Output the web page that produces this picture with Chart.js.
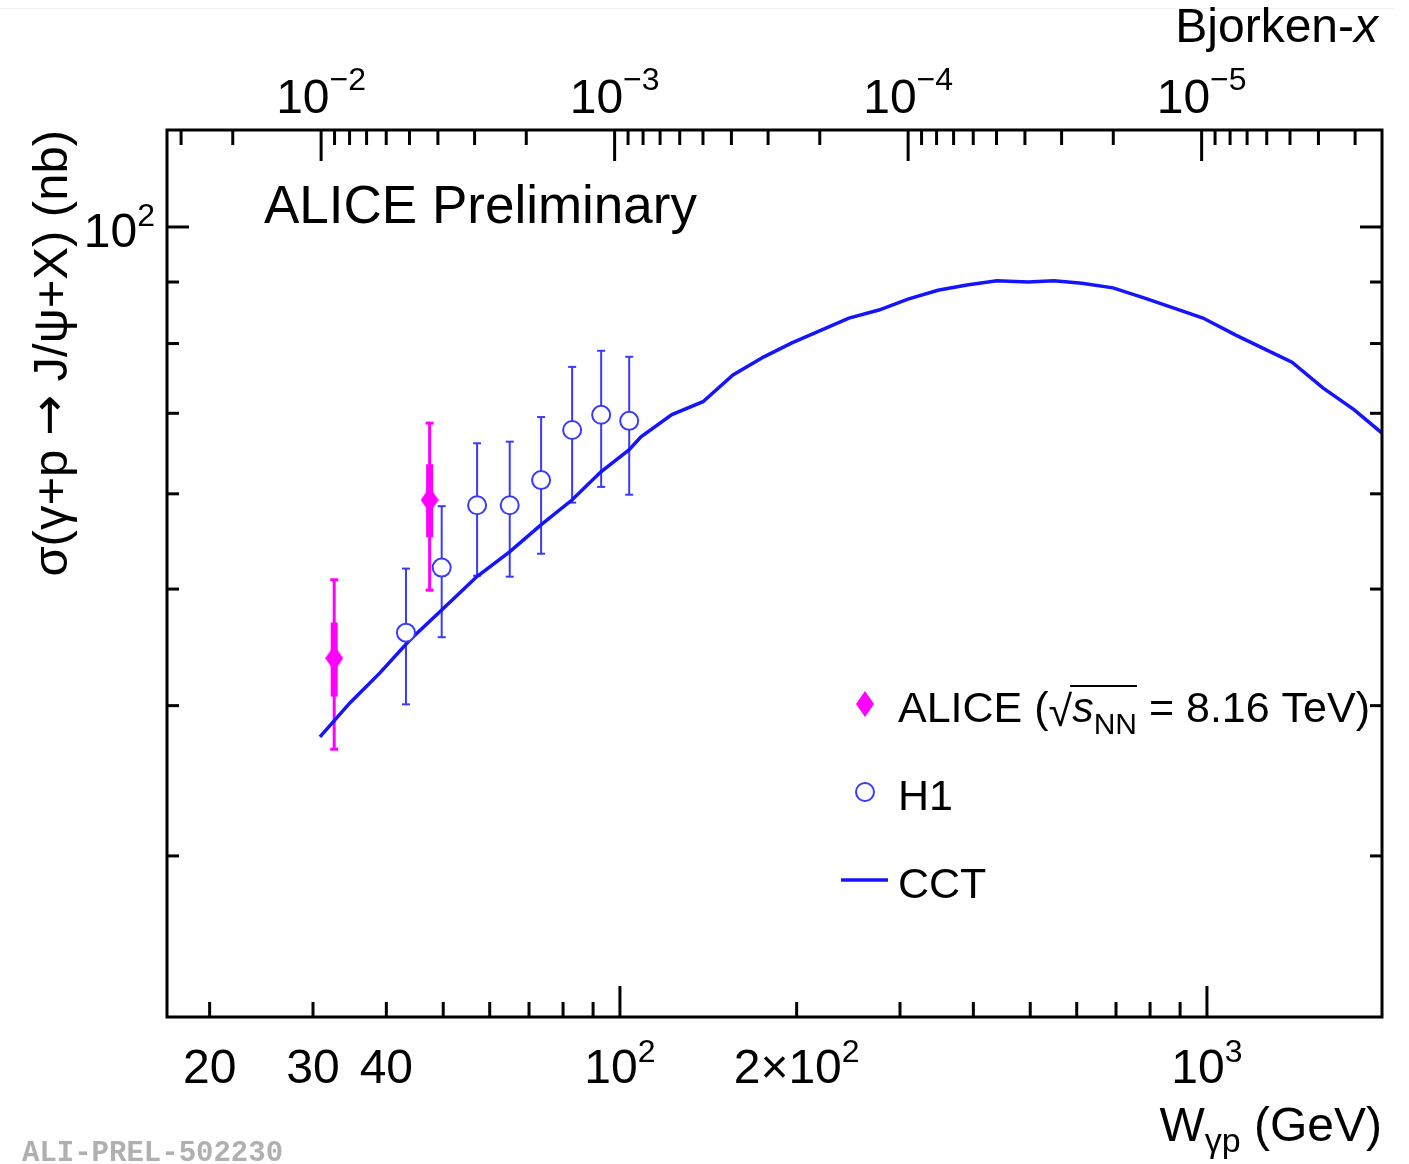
<!DOCTYPE html>
<html>
<head>
<meta charset="utf-8">
<script src="https://cdn.jsdelivr.net/npm/chart.js@4.4.1/dist/chart.umd.min.js"></script>
<style>
html,body{margin:0;padding:0;background:#ffffff;}
canvas{display:block;}
</style>
</head>
<body>
<canvas id="c" width="1409" height="1164"></canvas>
<script>
// ---------------- data ----------------
const aliceW      = [32.6, 47.4];
const aliceSigma  = [43.8, 59.3];
const aliceStatLo = [40.7, 55.2];
const aliceStatHi = [46.9, 63.5];
const aliceTotLo  = [36.8, 49.9];
const aliceTotHi  = [50.9, 68.7];

const h1W     = [43.2, 49.7, 57.1, 64.9, 73.4, 82.9, 92.9, 103.7];
const h1Sigma = [46.0, 52.1, 58.7, 58.7, 61.6, 67.8, 69.8, 69.0];
const h1Lo    = [40.1, 45.6, 51.3, 51.2, 53.5, 59.0, 60.8, 59.9];
const h1Hi    = [52.0, 58.6, 66.1, 66.3, 69.5, 76.5, 78.9, 78.0];

const cctW = [30.83, 34.67, 39.00, 43.86, 49.70, 57.07, 64.94, 73.35, 82.83, 92.82,
              103.6, 108.6, 122.6, 138.5, 155.8, 175.9, 196.3, 214.9, 245.5, 276.2,
              309.5, 348.1, 390.0, 438.7, 495.6, 548.9, 612.4, 691.7, 781.0, 878.8,
              984.5, 1120, 1265, 1396, 1576, 1780, 1987];
const cctSigma = [37.68, 40.21, 42.59, 45.36, 48.03, 51.22, 53.72, 56.53, 59.29, 62.58,
                  65.27, 66.91, 69.82, 71.57, 75.34, 77.99, 80.11, 81.65, 84.0, 85.3,
                  87.1, 88.6, 89.5, 90.2, 90.0, 90.2, 89.8, 89.0, 87.3, 85.6,
                  84.0, 81.3, 79.0, 77.2, 73.5, 70.5, 67.4];

// axis ranges
const W_MIN = 16.92, W_MAX = 1987;
const SIGMA_MIN = 22.04, SIGMA_MAX = 120.4;
const M_JPSI = 3.097; // GeV, Bjorken-x = (M/W)^2

// tick values and labels
const wTicks      = [20, 30, 40, 50, 60, 70, 80, 90, 100, 200, 300, 400, 500, 600, 700, 800, 900, 1000];
const wMajor      = [100, 1000];
const wLabelVals  = [20, 30, 40, 100, 200, 1000];
const wLabelBase  = ['20', '30', '40', '10', '2×10', '10'];
const wLabelSup   = ['', '', '', '2', '2', '3'];

const bjTicks = [3e-2, 2e-2, 1e-2, 9e-3, 8e-3, 7e-3, 6e-3, 5e-3, 4e-3, 3e-3, 2e-3,
                 1e-3, 9e-4, 8e-4, 7e-4, 6e-4, 5e-4, 4e-4, 3e-4, 2e-4,
                 1e-4, 9e-5, 8e-5, 7e-5, 6e-5, 5e-5, 4e-5, 3e-5, 2e-5,
                 1e-5, 9e-6, 8e-6, 7e-6, 6e-6, 5e-6, 4e-6, 3e-6];
const bjMajor     = [1e-2, 1e-3, 1e-4, 1e-5];
const bjLabelBase = ['10', '10', '10', '10'];
const bjLabelSup  = ['−2', '−3', '−4', '−5'];

const sigmaTicks     = [30, 40, 50, 60, 70, 80, 90, 100];
const sigmaMajor     = [100];
const sigmaLabelVals = [100];
const sigmaLabelBase = ['10'];
const sigmaLabelSup  = ['2'];

// ---------------- styles ----------------
const FONT = "'Liberation Sans', Arial, Helvetica, sans-serif";
const ALICE_C = '#ff00ff';
const H1_C = '#3a3aff';
const CCT_C = '#1414ff';

function makeDiamond(w, h, color) {
  const c = document.createElement('canvas');
  c.width = w; c.height = h;
  const g = c.getContext('2d');
  g.fillStyle = color;
  g.beginPath();
  g.moveTo(w / 2, 0); g.lineTo(w, h / 2); g.lineTo(w / 2, h); g.lineTo(0, h / 2);
  g.closePath(); g.fill();
  return c;
}
const diamond = makeDiamond(18, 26, ALICE_C);

function line(ctx, x1, y1, x2, y2) {
  ctx.beginPath(); ctx.moveTo(x1, y1); ctx.lineTo(x2, y2); ctx.stroke();
}

// text with superscript; align 'center' | 'right' | 'left'
function supText(ctx, base, sup, x, baseline, align, baseSize, supSize, raise) {
  ctx.font = baseSize + 'px ' + FONT;
  const wb = ctx.measureText(base).width;
  ctx.font = supSize + 'px ' + FONT;
  const ws = sup ? ctx.measureText(sup).width : 0;
  const total = wb + ws;
  let x0 = x;
  if (align === 'center') x0 = x - total / 2;
  else if (align === 'right') x0 = x - total;
  ctx.textAlign = 'left';
  ctx.font = baseSize + 'px ' + FONT;
  ctx.fillText(base, x0, baseline);
  if (sup) {
    ctx.font = supSize + 'px ' + FONT;
    ctx.fillText(sup, x0 + wb, baseline - raise);
  }
}

const rootStyle = {
  id: 'rootStyle',
  beforeDatasetsDraw(chart) {
    const ctx = chart.ctx, xs = chart.scales.x, ys = chart.scales.y;
    ctx.save();
    ctx.lineCap = 'butt';
    // H1 error bars
    ctx.strokeStyle = H1_C; ctx.lineWidth = 2;
    h1W.forEach((w, i) => {
      const px = xs.getPixelForValue(w);
      const t = ys.getPixelForValue(h1Hi[i]), b = ys.getPixelForValue(h1Lo[i]);
      line(ctx, px, t, px, b);
      line(ctx, px - 4, t, px + 4, t);
      line(ctx, px - 4, b, px + 4, b);
    });
    // ALICE total (thin) and stat (thick) error bars
    ctx.strokeStyle = ALICE_C;
    aliceW.forEach((w, i) => {
      const px = xs.getPixelForValue(w);
      const t = ys.getPixelForValue(aliceTotHi[i]), b = ys.getPixelForValue(aliceTotLo[i]);
      ctx.lineWidth = 3;
      line(ctx, px, t, px, b);
      line(ctx, px - 4, t, px + 4, t);
      line(ctx, px - 4, b, px + 4, b);
      const st = ys.getPixelForValue(aliceStatHi[i]), sb = ys.getPixelForValue(aliceStatLo[i]);
      ctx.lineWidth = 7;
      line(ctx, px, st, px, sb);
    });
    ctx.restore();
  },
  afterDraw(chart) {
    const ctx = chart.ctx, ca = chart.chartArea;
    const xs = chart.scales.x, x2 = chart.scales.x2, ys = chart.scales.y;
    ctx.save();
    // faint page line at top
    ctx.strokeStyle = '#f0f0f0'; ctx.lineWidth = 1;
    line(ctx, 0, 8.5, 1395, 8.5);

    // frame
    ctx.strokeStyle = '#000'; ctx.lineWidth = 3;
    ctx.strokeRect(ca.left, ca.top, ca.right - ca.left, ca.bottom - ca.top);

    // ticks (pointing inward)
    ctx.lineWidth = 3;
    wTicks.forEach(v => {
      const px = xs.getPixelForValue(v);
      const len = wMajor.includes(v) ? 31 : 15;
      line(ctx, px, ca.bottom, px, ca.bottom - len);
    });
    bjTicks.forEach(v => {
      const px = x2.getPixelForValue(v);
      const len = bjMajor.includes(v) ? 31 : 15;
      line(ctx, px, ca.top, px, ca.top + len);
    });
    sigmaTicks.forEach(v => {
      const py = ys.getPixelForValue(v);
      const len = sigmaMajor.includes(v) ? 22 : 12;
      line(ctx, ca.left, py, ca.left + len, py);
      line(ctx, ca.right, py, ca.right - len, py);
    });

    // tick labels
    ctx.fillStyle = '#000';
    wLabelVals.forEach((v, i) => {
      supText(ctx, wLabelBase[i], wLabelSup[i], xs.getPixelForValue(v), 1083, 'center', 48, 32, 21);
    });
    bjMajor.forEach((v, i) => {
      supText(ctx, bjLabelBase[i], bjLabelSup[i], x2.getPixelForValue(v), 113, 'center', 48, 32, 23);
    });
    sigmaLabelVals.forEach((v, i) => {
      supText(ctx, sigmaLabelBase[i], sigmaLabelSup[i], ca.left - 12, ys.getPixelForValue(v) + 20, 'right', 48, 32, 21);
    });

    // axis titles
    // bottom: W_γp (GeV)
    ctx.textAlign = 'left';
    ctx.font = '48px ' + FONT;
    const tW = ctx.measureText('W').width;
    const tRest = ctx.measureText(' (GeV)').width;
    ctx.font = '34px ' + FONT;
    const tSub = ctx.measureText('γp').width;
    let x0 = ca.right - (tW + tSub + tRest);
    ctx.font = '48px ' + FONT;
    ctx.fillText('W', x0, 1141);
    ctx.font = '34px ' + FONT;
    ctx.fillText('γp', x0 + tW, 1152);
    ctx.font = '48px ' + FONT;
    ctx.fillText(' (GeV)', x0 + tW + tSub, 1141);

    // top: Bjorken-x
    ctx.font = 'italic 48px ' + FONT;
    const tx = ctx.measureText('x').width;
    ctx.font = '48px ' + FONT;
    const tb = ctx.measureText('Bjorken-').width;
    x0 = 1378 - tx - tb;
    ctx.fillText('Bjorken-', x0, 42);
    ctx.font = 'italic 48px ' + FONT;
    ctx.fillText('x', x0 + tb, 42);

    // left: sigma title (rotated), arrow from DejaVu Sans for a full-size glyph
    ctx.save();
    ctx.translate(67, ca.top);
    ctx.rotate(-Math.PI / 2);
    ctx.textAlign = 'left';
    const tf = '49px ' + FONT, af = "49px 'DejaVu Sans', sans-serif";
    const p1 = 'σ(γ+p ', p2 = '→', p3 = ' J/ψ+X) (nb)';
    ctx.font = tf; const w1 = ctx.measureText(p1).width, w3 = ctx.measureText(p3).width;
    ctx.font = af; const w2 = ctx.measureText(p2).width;
    let ty = -(w1 + w2 + w3);
    ctx.font = tf; ctx.fillText(p1, ty, 0); ty += w1;
    ctx.font = af; ctx.fillText(p2, ty, -2); ty += w2;
    ctx.font = tf; ctx.fillText(p3, ty, 0);
    ctx.restore();

    // ALICE Preliminary
    ctx.textAlign = 'left';
    ctx.font = '53px ' + FONT;
    ctx.fillText('ALICE Preliminary', 264, 223);

    // legend
    ctx.drawImage(diamond, 865 - diamond.width / 2, 704 - diamond.height / 2);
    ctx.beginPath();
    ctx.arc(865, 792, 9, 0, Math.PI * 2);
    ctx.fillStyle = '#fff'; ctx.fill();
    ctx.strokeStyle = H1_C; ctx.lineWidth = 2; ctx.stroke();
    ctx.strokeStyle = CCT_C; ctx.lineWidth = 3.5;
    line(ctx, 841, 880, 888, 880);

    ctx.fillStyle = '#000';
    const LF = '43px ' + FONT;
    ctx.font = LF;
    let lx = 898;
    ctx.fillText('ALICE (', lx, 722);
    lx += ctx.measureText('ALICE (').width;
    ctx.fillText('√', lx, 726);
    lx += ctx.measureText('√').width;
    const ovStart = lx - 2;
    ctx.font = 'italic 43px ' + FONT;
    ctx.fillText('s', lx, 722);
    lx += ctx.measureText('s').width;
    ctx.font = '30px ' + FONT;
    ctx.fillText('NN', lx, 734);
    lx += ctx.measureText('NN').width;
    ctx.strokeStyle = '#000'; ctx.lineWidth = 2;
    line(ctx, ovStart, 686, lx, 686);
    ctx.font = LF;
    ctx.fillText(' = 8.16 TeV)', lx, 722);
    ctx.fillText('H1', 898, 810);
    ctx.fillText('CCT', 898, 898);

    // watermark
    ctx.fillStyle = '#b0b0b0';
    ctx.font = "bold 29px 'Liberation Mono', 'DejaVu Sans Mono', monospace";
    ctx.fillText('ALI-PREL-502230', 22, 1161);
    ctx.restore();
  }
};

const hiddenAxis = {
  ticks: { display: false },
  grid: { display: false, drawTicks: false },
  border: { display: false },
  title: { display: false }
};

new Chart(document.getElementById('c'), {
  type: 'scatter',
  data: {
    datasets: [
      {
        label: 'ALICE (√sNN = 8.16 TeV)',
        data: aliceW.map((w, i) => ({ x: w, y: aliceSigma[i] })),
        pointStyle: diamond,
        pointRadius: 10,
        showLine: false,
        xAxisID: 'x', yAxisID: 'y'
      },
      {
        label: 'H1',
        data: h1W.map((w, i) => ({ x: w, y: h1Sigma[i] })),
        pointStyle: 'circle',
        pointRadius: 9,
        pointBackgroundColor: '#ffffff',
        pointBorderColor: H1_C,
        pointBorderWidth: 2,
        showLine: false,
        xAxisID: 'x', yAxisID: 'y'
      },
      {
        label: 'CCT',
        data: cctW.map((w, i) => ({ x: w, y: cctSigma[i] })),
        showLine: true,
        borderColor: CCT_C,
        borderWidth: 3.5,
        pointRadius: 0,
        tension: 0,
        fill: false,
        xAxisID: 'x', yAxisID: 'y'
      }
    ]
  },
  options: {
    responsive: false,
    animation: false,
    devicePixelRatio: 1,
    events: [],
    layout: { padding: { left: 0, right: 27, top: 0, bottom: 0 } },
    plugins: { legend: { display: false }, tooltip: { enabled: false } },
    scales: {
      x: Object.assign({}, hiddenAxis, {
        type: 'logarithmic', position: 'bottom', min: W_MIN, max: W_MAX,
        afterFit: s => { s.height = 147; }
      }),
      x2: Object.assign({}, hiddenAxis, {
        type: 'logarithmic', position: 'top', reverse: true,
        min: Math.pow(M_JPSI / W_MAX, 2), max: Math.pow(M_JPSI / W_MIN, 2),
        afterFit: s => { s.height = 130; }
      }),
      y: Object.assign({}, hiddenAxis, {
        type: 'logarithmic', position: 'left', min: SIGMA_MIN, max: SIGMA_MAX,
        afterFit: s => { s.width = 167; }
      })
    }
  },
  plugins: [rootStyle]
});
</script>
</body>
</html>
